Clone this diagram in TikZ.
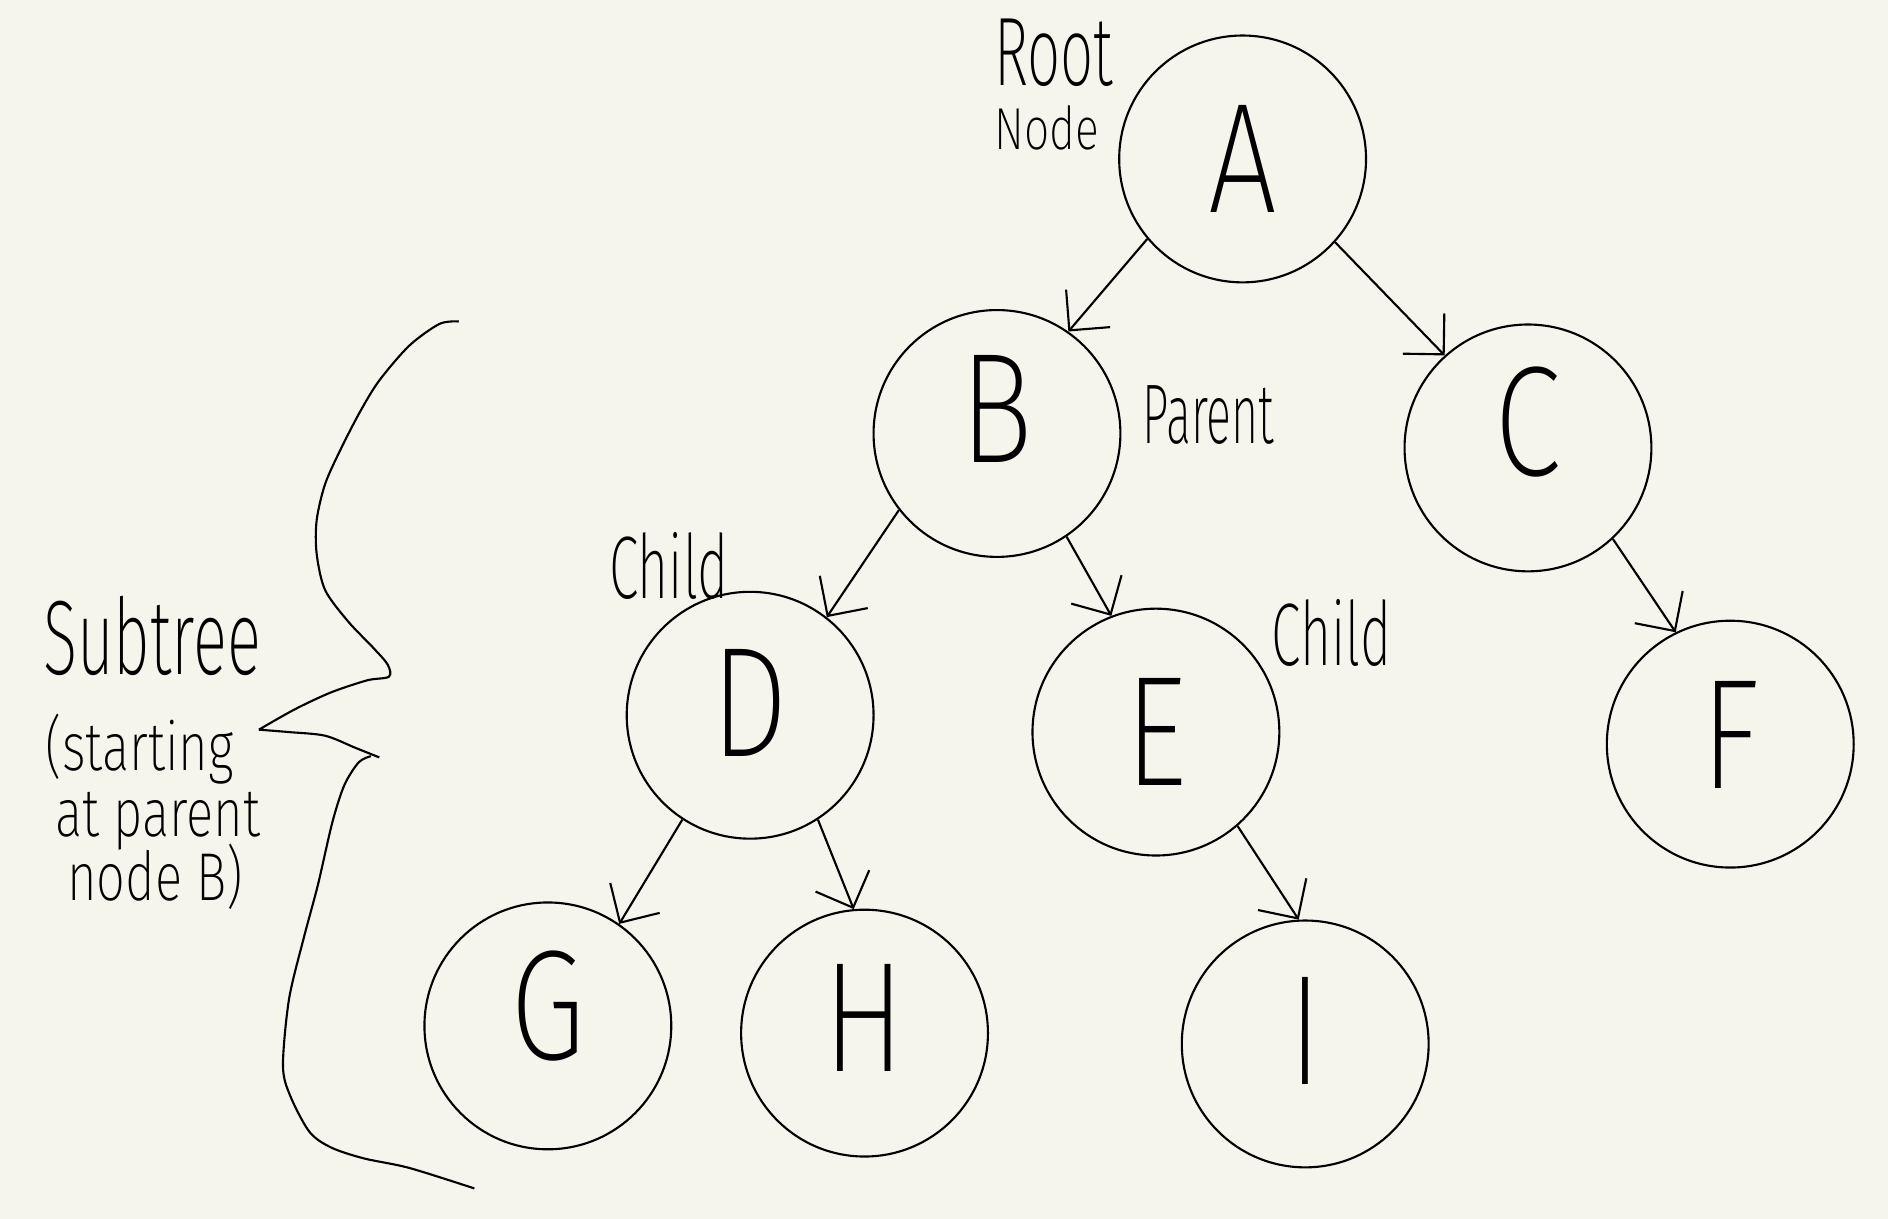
\documentclass[tikz,border=0pt]{standalone}
\usepackage{fontspec}
\usetikzlibrary{arrows.meta}
\newfontfamily\penfont{Fira Sans ExtraLight}
\newcommand{\hw}[2][0.6]{\scalebox{#1}[1]{#2}}
\definecolor{paper}{RGB}{246,245,236}

\begin{document}
\begin{tikzpicture}[x=0.1mm, y=-0.1mm, line width=0.5pt,
  vertex/.style={draw, circle, minimum size=20.5mm, inner sep=0pt,
    font=\penfont\fontsize{37}{40}\selectfont},
  edge/.style={-{Straight Barb[length=2.4mm, width=4.8mm]}},
  lab/.style={anchor=base west, inner sep=0pt,
    font=\penfont\fontsize{#1}{#1}\selectfont}]
  \fill[paper] (0,0) rectangle (1568,1012);
  \useasboundingbox (0,0) rectangle (1568,1012);

  % the tree
  \node[vertex] (A) at (1032,132) {\hw[0.78]{A}};
  \node[vertex] (B) at (828,360) {\raisebox{4mm}{\hw[0.78]{B}}};
  \node[vertex] (C) at (1269,372) {\raisebox{4.5mm}{\hw[0.78]{C}}};
  \node[vertex] (D) at (623,594) {\raisebox{2mm}{\hw[0.78]{D}}};
  \node[vertex] (E) at (960,608) {\hw[0.78]{E}};
  \node[vertex] (F) at (1437,618) {\raisebox{1.5mm}{\hw[0.78]{F}}};
  \node[vertex] (G) at (455,852) {\raisebox{3.5mm}{\hw[0.78]{G}}};
  \node[vertex] (H) at (718,858) {\raisebox{2.5mm}{\hw[0.78]{H}}};
  \node[vertex] (I) at (1084,867) {\raisebox{2.2mm}{\hw[0.78]{I}}};

  \draw[edge] (A.220) -- (B.55);
  \draw[edge] (A.318) -- (C.132);
  \draw[edge] (B.218) -- (D.52);
  \draw[edge] (B.304) -- (E.111);
  \draw[edge] (C.313) -- (F.116);
  \draw[edge] (D.237) -- (G.55);
  \draw[edge] (D.303) -- (H.95);
  \draw[edge] (E.311) -- (I.93);

  % notes
  \node[lab=23] (root) at (825,71) {\hw{Root}};
  \node[lab=14] (rootnode) at (825,124) {\hw[0.75]{Node}};
  \node[lab=20] (parent) at (948,368) {\hw[0.55]{Parent}};
  \node[lab=21] (childD) at (505,497) {\hw{Child}};
  \node[lab=21] (childE) at (1055,553) {\hw{Child}};
  \node[lab=25] (subtree) at (35,560) {\hw{Subtree}};
  \node[lab=16] (sub1) at (37,640) {\hw[0.75]{(starting}};
  \node[lab=16] (sub2) at (45,695) {\hw[0.75]{at parent}};
  \node[lab=16] (sub3) at (55,748) {\hw[0.75]{node B)}};

  % brace round the subtree
  \draw plot[smooth] coordinates {(381,267) (365,269) (340,287) (315,316)
      (299,342) (283,373) (270,402) (263,432) (263,460) (270,490) (289,516)
      (310,538) (322,552) (323,562) (305,565) (275,575) (245,589) (215,606)}
    plot[smooth] coordinates {(215,606) (240,608) (270,611) (295,621) (315,629)};
  \draw plot[smooth] coordinates {(308,628) (298,633) (286,652) (276,683)
      (264,735) (252,780) (240,830) (235,885) (241,910) (257,940) (275,953)
      (302,962) (340,970) (394,987)};
\end{tikzpicture}
\end{document}
